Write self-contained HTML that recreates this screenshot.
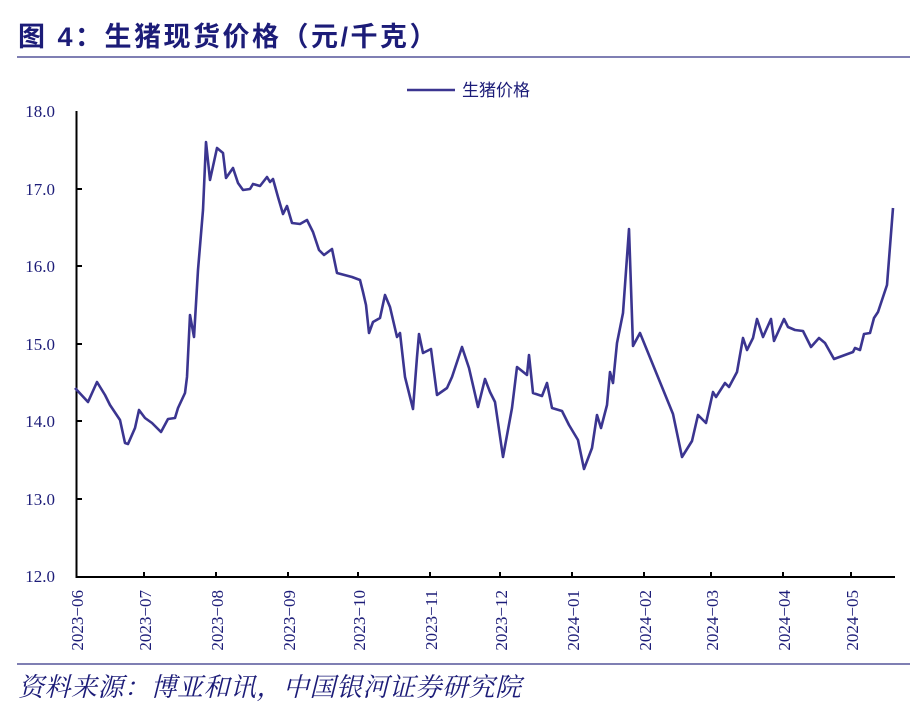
<!DOCTYPE html>
<html><head><meta charset="utf-8"><style>
body{margin:0;background:#fff;width:910px;height:708px;overflow:hidden;position:relative;font-family:"Liberation Serif","Noto Serif CJK SC",serif}
.t{position:absolute;left:18px;top:15px;font:bold 27px "Liberation Sans","Noto Sans CJK SC",sans-serif;color:#1c1c78;letter-spacing:2.5px;white-space:nowrap}
.hl{position:absolute;left:17px;right:0;height:2px;background:#7f7fb3}
.src{position:absolute;left:18px;top:667px;font:italic 26px "Liberation Serif","Noto Serif CJK SC",serif;color:#1c1c78;white-space:nowrap;letter-spacing:0.5px}
</style></head><body>
<div class="t">图 4：生猪现货价格（元/千克）</div>
<div class="hl" style="top:56px"></div>
<div class="hl" style="top:663px"></div>
<div class="src">资料来源：博亚和讯，中国银河证券研究院</div>
<svg width="910" height="708" style="position:absolute;left:0;top:0">
<g font-family="Liberation Serif" font-size="17" fill="#1c1c78" text-anchor="end">
<text x="55" y="117">18.0</text><text x="55" y="195">17.0</text><text x="55" y="272">16.0</text>
<text x="55" y="350">15.0</text><text x="55" y="427">14.0</text><text x="55" y="505">13.0</text><text x="55" y="582">12.0</text>
</g>
<g stroke="#000" stroke-width="2" fill="none">
<path d="M76.5 111V577H895"/>
<path d="M77 189h5M77 266h5M77 344h5M77 421h5M77 499h5"/>
<path d="M144 577v-5M216 577v-5M288 577v-5M358 577v-5M430 577v-5M500 577v-5M572 577v-5M644 577v-5M711 577v-5M783 577v-5M851 577v-5"/>
</g>
<g font-family="Liberation Serif" font-size="17" fill="#1c1c78" text-anchor="end">
<text transform="translate(83,590) rotate(-90)">2023−06</text>
<text transform="translate(151,590) rotate(-90)">2023−07</text>
<text transform="translate(223,590) rotate(-90)">2023−08</text>
<text transform="translate(295,590) rotate(-90)">2023−09</text>
<text transform="translate(365,590) rotate(-90)">2023−10</text>
<text transform="translate(437,590) rotate(-90)">2023−11</text>
<text transform="translate(507,590) rotate(-90)">2023−12</text>
<text transform="translate(579,590) rotate(-90)">2024−01</text>
<text transform="translate(651,590) rotate(-90)">2024−02</text>
<text transform="translate(718,590) rotate(-90)">2024−03</text>
<text transform="translate(790,590) rotate(-90)">2024−04</text>
<text transform="translate(858,590) rotate(-90)">2024−05</text>
</g>
<line x1="407" y1="90" x2="455" y2="90" stroke="#3b3590" stroke-width="2.5"/>
<text x="462" y="96" font-family="Liberation Sans,Noto Sans CJK SC,sans-serif" font-size="17" fill="#1c1c78">生猪价格</text>
<polyline fill="none" stroke="#3b3590" stroke-width="2.6" stroke-linejoin="round" points="75,388 88,402 97,382 105,395 110,405 120,420 125,443 128,444 135,428 139,410 145,418 152,423 161,432 168,419 175,418 178,408 185,393 187,377 190,315 194,337 198,270 203,210 206,142 210,180 217,148 223,153 226,178 233,168 238,183 243,190 250,189 253,184 260,186 267,177 270,182 273,179 278,197 283,214 287,206 292,223 300,224 307,220 313,232 319,250 324,255 332,249 337,273 352,277 360,280 363,292 366,305 369,333 373,322 380,318 385,295 390,307 397,337 400,333 405,377 413,409 417,357 419,334 423,353 431,349 437,395 447,388 452,377 462,347 469,368 478,407 485,379 490,392 495,402 503,457 512,408 517,367 527,375 529,355 533,393 542,396 547,383 552,408 562,411 569,425 578,440 584,469 592,448 597,415 601,428 607,405 610,372 613,383 617,343 623,313 629,229 633,346 640,333 673,414 682,457 692,441 698,415 706,423 713,392 716,397 725,383 729,387 737,372 743,338 747,350 753,338 757,319 763,337 771,319 774,341 784,319 788,327 795,330 803,331 811,347 819,338 825,343 834,359 853,352 855,348 860,350 864,334 870,333 874,318 878,312 887,285 893,208"/>
</svg>
</body></html>
